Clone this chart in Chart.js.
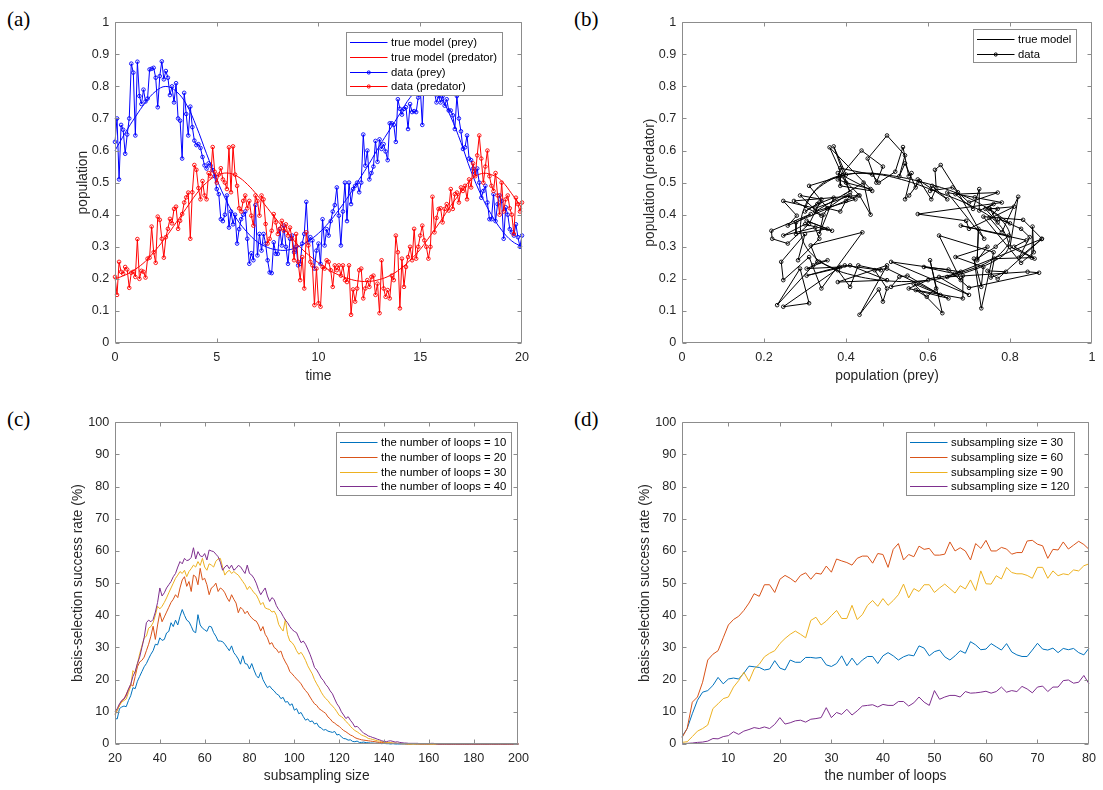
<!DOCTYPE html>
<html><head><meta charset="utf-8">
<script src="https://cdn.jsdelivr.net/npm/chart.js@4.4.1/dist/chart.umd.min.js"></script>
<style>
html,body{margin:0;padding:0;background:#fff;overflow:hidden;}
#wrap{position:relative;width:1103px;height:790px;background:#fff;}
canvas{position:absolute;}
.plab{position:absolute;font-family:'Liberation Serif','Times New Roman',serif;font-size:21px;line-height:21px;color:#000;}
</style></head><body>
<div id="wrap">
<div class="plab" style="left:7px;top:9px">(a)</div>
<div class="plab" style="left:574px;top:9px">(b)</div>
<div class="plab" style="left:7px;top:409px">(c)</div>
<div class="plab" style="left:574px;top:409px">(d)</div>
<canvas id="ca" width="471" height="376" style="left:65px;top:9px;width:471px;height:376px"></canvas>
<canvas id="cb" width="471" height="376" style="left:632px;top:9px;width:471px;height:376px"></canvas>
<canvas id="cc" width="471" height="377" style="left:65px;top:409px;width:471px;height:377px"></canvas>
<canvas id="cd" width="471" height="377" style="left:632px;top:409px;width:471px;height:377px"></canvas>
</div>
<script>
// ---------------- data: panel (a)/(b) ----------------
const dataStep = 0.1;   // sampling interval of the noisy data
const modelStep = 0.5;  // sampling interval of the true model curves
const preyData = [
0.627,0.70,0.51,0.68,0.665,0.59,0.65,0.70,0.871,0.843,
0.647,0.877,0.77,0.745,0.79,0.753,0.762,0.853,0.855,0.858,
0.827,0.735,0.832,0.878,0.822,0.848,0.827,0.773,0.80,0.75,
0.81,0.70,0.693,0.575,0.78,0.714,0.647,0.737,0.673,0.631,
0.617,0.62,0.608,0.58,0.554,0.544,0.56,0.553,0.539,0.52,
0.48,0.464,0.386,0.38,0.40,0.46,0.36,0.41,0.37,0.40,
0.31,0.355,0.386,0.40,0.41,0.325,0.247,0.28,0.258,0.43,
0.273,0.34,0.288,0.34,0.31,0.258,0.22,0.218,0.314,0.278,
0.278,0.355,0.304,0.366,0.30,0.247,0.325,0.335,0.283,0.30,
0.242,0.247,0.31,0.34,0.44,0.314,0.33,0.32,0.232,0.288,
0.31,0.247,0.386,0.304,0.355,0.335,0.38,0.41,0.43,0.485,
0.397,0.304,0.41,0.50,0.38,0.50,0.433,0.48,0.49,0.50,
0.47,0.50,0.65,0.553,0.60,0.51,0.53,0.55,0.63,0.565,
0.635,0.605,0.62,0.597,0.57,0.685,0.685,0.68,0.627,0.76,
0.73,0.712,0.73,0.735,0.667,0.745,0.72,0.723,0.72,0.765,
0.797,0.68,0.84,0.81,0.86,0.80,0.82,0.78,0.75,0.77,
0.75,0.77,0.74,0.76,0.725,0.725,0.71,0.667,0.77,0.70,
0.66,0.605,0.61,0.647,0.575,0.57,0.544,0.53,0.544,0.50,
0.453,0.474,0.49,0.438,0.386,0.386,0.464,0.38,0.433,0.46,
0.443,0.325,0.423,0.40,0.355,0.345,0.335,0.37,0.33,0.30,
0.335];
const predData = [
0.206,0.15,0.253,0.222,0.216,0.237,0.229,0.172,0.219,0.222,
0.206,0.324,0.20,0.225,0.222,0.204,0.263,0.266,0.363,0.283,
0.25,0.394,0.384,0.325,0.266,0.33,0.356,0.387,0.373,0.418,
0.425,0.356,0.381,0.402,0.438,0.454,0.469,0.325,0.47,0.555,
0.54,0.483,0.448,0.505,0.46,0.448,0.53,0.52,0.611,0.534,
0.50,0.525,0.545,0.51,0.50,0.48,0.61,0.47,0.613,0.525,
0.49,0.42,0.41,0.443,0.46,0.42,0.443,0.397,0.366,0.46,
0.443,0.397,0.46,0.448,0.371,0.31,0.325,0.35,0.402,0.376,
0.34,0.356,0.381,0.35,0.37,0.335,0.36,0.325,0.258,0.34,
0.253,0.196,0.268,0.17,0.345,0.304,0.253,0.242,0.118,0.232,
0.124,0.113,0.237,0.232,0.258,0.253,0.227,0.175,0.242,0.227,
0.242,0.21,0.242,0.196,0.19,0.242,0.088,0.167,0.129,0.17,
0.227,0.232,0.139,0.17,0.196,0.175,0.206,0.21,0.15,0.185,
0.093,0.258,0.17,0.144,0.165,0.139,0.21,0.196,0.335,0.283,
0.108,0.263,0.175,0.237,0.268,0.30,0.258,0.356,0.263,0.30,
0.335,0.366,0.32,0.30,0.263,0.30,0.456,0.345,0.39,0.418,
0.42,0.376,0.418,0.433,0.413,0.48,0.418,0.464,0.469,0.438,
0.485,0.474,0.49,0.448,0.51,0.485,0.56,0.52,0.585,0.647,
0.575,0.50,0.55,0.60,0.52,0.49,0.474,0.53,0.46,0.40,
0.50,0.41,0.448,0.46,0.42,0.40,0.34,0.453,0.433,0.41,
0.438];
const preyModel = [0.60,0.655,0.705,0.75,0.785,0.80,0.785,0.745,0.675,0.59,
0.51,0.44,0.385,0.345,0.315,0.298,0.29,0.29,0.30,0.318,
0.342,0.375,0.415,0.46,0.51,0.56,0.615,0.665,0.715,0.765,
0.795,0.79,0.765,0.705,0.625,0.535,0.46,0.40,0.352,0.318,0.30];
const predModel = [0.20,0.212,0.23,0.255,0.29,0.33,0.375,0.42,0.465,0.50,
0.522,0.53,0.52,0.495,0.46,0.42,0.38,0.342,0.305,0.275,
0.25,0.228,0.212,0.20,0.193,0.192,0.198,0.21,0.23,0.258,
0.292,0.335,0.38,0.428,0.47,0.51,0.528,0.525,0.505,0.465,0.42];

// ---------------- data: panel (c) ----------------
const sizeStart = 20, sizeEnd = 200;
const loops10 = [
7.9,7.8,11,11.5,11.8,11.6,13.5,15,17.5,17.2,
19.5,21,22.5,24,25,26.5,27.9,29,31,30.8,
33,32.2,32.5,34.5,35,37.7,36.5,38.5,37,39.7,
41.8,40,38.5,38,36.6,35,34.6,40.2,37,36,
35.5,35,36.6,36.4,34.6,33.5,32,32,31.8,31,
30,29,30.5,28.4,27.5,26.4,24.8,27.4,25,24.8,
23.3,25,23,21.3,20.5,22.3,20,18.7,17.5,18,
17.1,16.5,15.6,15.2,14.1,14.5,13,13.2,12,12.5,
10.5,11,9.4,9.8,8.5,7.4,7.8,6.9,7.2,6.2,
6.5,5.3,5,4.3,4.5,4,3.8,3.6,3.9,2.8,
3,2.2,1.7,1.6,1.2,1.3,0.8,0.7,0.9,0.5,
0.5,0.6,0.4,0.4,0.3,0.3,0.2,0.3,0.2,0.1,
0.2,0.1,0.1,0,0.1,0,0,0,0,0,
0,0,0,0,0,0,0,0,0,0,
0,0,0,0,0,0,0,0,0,0,
0,0,0,0,0,0,0,0,0,0,
0,0,0,0,0,0,0,0,0,0,
0,0,0,0,0,0,0,0,0,0,
0];
const loops20 = [
9,10.5,12,13.5,14,15.5,17,18.5,18,21,
24,25.5,26,27,29,31,33.5,36.6,32.5,37,
40.8,38,39.5,41,42.5,44,45,46.4,45.5,48.5,
51,52,49,50.5,47.4,52.5,52,49.5,54.6,51,
51.5,49.5,46.4,48.5,49,50,47.4,48.5,48,47,
45.4,44.3,46.4,45,43.8,40.8,42.5,41.8,40.5,41.3,
40,39.2,38.5,38.2,37,35.1,36.5,34.1,33,31,
31.5,30,29.5,28.4,28.9,26.9,25.5,24.3,22.5,21.8,
21,20.2,19.5,18.7,17.5,16.6,15.8,14.6,13.5,12.5,
12,11,10.5,10,9.5,8.4,7.8,6.9,6.5,5.9,
5.5,4.8,4.2,3.8,3.3,2.8,2.5,2,1.7,1.5,
1.3,1.2,1.1,1,0.9,0.8,0.7,0.6,0.5,0.5,
0.4,0.4,0.3,0.3,0.2,0.2,0.2,0.1,0.1,0.1,
0,0,0,0.1,0,0,0,0,0,0,
0,0,0,0,0,0,0,0,0,0,
0,0,0,0,0,0,0,0,0,0,
0,0,0,0,0,0,0,0,0,0,
0,0,0,0,0,0,0,0,0,0,
0];
const loops30 = [
9.5,10.5,12,13,13.5,14,16,18,22.8,22,
25,28,30.5,33,33.5,36,36.5,37.7,40,42.8,
42,42.8,44,45.4,47,48.5,50,51.5,52.5,53.6,
53,54,52,53.6,54.5,55.6,55,56.7,55.5,57.7,
55,54,56,55.6,55,56.8,57.5,57.7,55,52.5,
53.5,54,53,53.6,53,52.5,51.5,50.5,49.5,48,
49,48,47,46.4,45,43.3,44,42.3,42,41.8,
41,41.3,40,37.2,36,35.1,38.7,34,32,31.5,
30.5,29,27.9,28.5,27.4,26,24.3,23,21.8,20,
18.7,17.5,16.1,15,14.1,13.5,12.5,11.8,11,10,
8.9,8.5,7.9,7,6.4,5.5,4.8,4.2,3.8,3.3,
2.8,2.5,2.2,1.7,1.6,1.4,1.2,1,0.9,0.7,
0.6,0.5,0.5,0.4,0.3,0.3,0.2,0.2,0.1,0.1,
0.1,0,0,0,0,0.1,0,0,0,0,
0,0,0,0,0,0,0,0,0,0,
0,0,0,0,0,0,0,0,0,0,
0,0,0,0,0,0,0,0,0,0,
0,0,0,0,0,0,0,0,0,0,
0];
const loops40 = [
10,11,12.5,13.5,14,15,17,18.5,21,22.5,
25,27,30,33,37.7,38.5,38,38.7,41,44,
48.5,46,47,48.5,49.5,50.5,52,53,55,56.7,
56,57.7,57,57.2,58,61,57.5,59.8,58.5,58.2,
59.2,57.2,60.3,60,59.8,59,58.2,56.5,54,55,
55.6,54.5,55.6,54,54.6,55.5,55.1,54,53,55.6,
53,52.5,51.5,50,48,46.4,47.5,48.5,46,44.3,
45.5,44.9,43,41.8,41,39.7,38.5,37.7,36.5,35.6,
35,34.6,33,31.5,32,31,29.5,27.9,26,23.8,
23,21.8,20.5,19.7,18.5,17.7,16.5,15.6,14,12.5,
11.5,10,9,7.9,8.5,7.4,6.5,5.3,5.5,4.8,
4,3.3,3,2.5,2.3,2,1.8,1.5,1.3,1,
0.8,0.7,0.9,1,0.8,0.6,0.7,0.5,0.4,0.3,
0.3,0.2,0.2,0.2,0.2,0.2,0.1,0.1,0.1,0.1,
0.1,0.2,0.2,0.1,0,0,0,0,0,0,
0,0,0,0,0,0,0,0,0,0,
0,0,0,0,0,0,0,0,0,0,
0,0,0,0,0,0,0,0,0,0,
0];

// ---------------- data: panel (d) ----------------
const loopStart = 1, loopEnd = 80;
const size30 = [2.3,4.8,9.4,13.6,16.1,16.6,18.2,20.7,18.7,20.2,
20.5,20.2,22,24.2,24,23.8,23,23.3,25.9,23.6,
23,26.1,25.4,25.4,26.9,26.9,26.7,26.9,24.6,24.1,
25,27.4,24.3,26.7,24.5,26.1,27.2,27.2,25,27.4,
28.4,27.4,26.1,27.1,27.7,27.4,30.5,29.8,27.4,28.7,
29.2,27.1,26.1,27.4,29,28.2,31.8,30.8,29.3,29.5,
31.2,30.2,29.2,31.2,28.6,27.7,27.2,27.2,29.2,31.3,
29.5,29.2,29.8,28.4,29.7,29.3,29.7,28.4,27.7,29.8];
const size60 = [2,4.8,13,14.6,19.2,26.1,27.9,29,33,37,
38.7,39.7,41.5,43.8,46.7,45.9,49.5,49.5,47.1,51.2,
52.4,51.5,50.3,52.4,53.2,51.2,53.1,52.8,55.3,53.4,
57.5,56.9,56.4,55.6,57.7,58.4,58.4,56.2,59.2,58.9,
54.9,60.5,62.3,57.2,58.9,58.2,61.5,60.5,60.8,58.7,
58.7,59,62.8,60,61,60,57.2,62.3,60.8,63.3,
60,60,61.1,60.6,59,59.5,59.5,63.1,63.3,62.1,
61.6,57.7,60.5,60.3,62.8,60.6,61.8,63,62,60.5];
const size90 = [0.5,0.7,2.3,4,4.8,5.9,11,12.5,14.1,14.6,
17.7,19.7,22.3,19.5,23.3,24.8,27.1,28.2,29,31.2,
32.8,34.1,35.1,34.1,33,38.4,39.4,37,38.2,39.9,
41.5,39,39,43.1,38.7,40.2,43.1,44.6,42.8,45.2,
43.1,44.6,46.4,49.7,45.4,48.3,47.4,49.5,49.5,47.1,
48.5,49.7,48.3,46.9,49.2,48.2,51,47.7,53.8,49.8,
49.7,52.3,51.3,54.9,53.3,52.9,52.9,52.4,51.5,54.9,
54.9,51.5,53.8,52.3,52.9,52.6,54.1,53.8,55.4,56];
const size120 = [0,0.2,0.3,0.5,0.6,0.9,1.7,1.6,2.3,2.6,
3.8,3,4,4.5,5.1,4.8,5.3,4.8,6.1,8.2,
6.2,6.6,7.2,7.4,6.8,7.7,7.9,8.2,11.3,8.2,
9.8,9.2,10.8,9,10.3,11.8,12,12.2,11.5,12.3,
12,12,13.2,13.2,11.8,12.8,14.6,13,12,16.6,
13.9,14.6,15.1,15.1,14.6,16.3,15.8,15.9,16.1,16.4,
15.8,16.3,17.7,16.1,16.6,16.3,17.9,17.1,15.9,17.7,
18,16.3,17.7,17.7,19.7,19.9,18.9,19.2,21.3,18.7];

// ---------------- tick values / labels ----------------
const ticksTime = [0,5,10,15,20];
const ticksTimeLabels = ['0','5','10','15','20'];
const ticksPop = [0,0.1,0.2,0.3,0.4,0.5,0.6,0.7,0.8,0.9,1];
const ticksPopLabels = ['0','0.1','0.2','0.3','0.4','0.5','0.6','0.7','0.8','0.9','1'];
const ticksPrey = [0,0.2,0.4,0.6,0.8,1];
const ticksPreyLabels = ['0','0.2','0.4','0.6','0.8','1'];
const ticksRate = [0,10,20,30,40,50,60,70,80,90,100];
const ticksRateLabels = ['0','10','20','30','40','50','60','70','80','90','100'];
const ticksSize = [20,40,60,80,100,120,140,160,180,200];
const ticksSizeLabels = ['20','40','60','80','100','120','140','160','180','200'];
const ticksLoops = [10,20,30,40,50,60,70,80];
const ticksLoopsLabels = ['10','20','30','40','50','60','70','80'];

// ---------------- helpers ----------------
const FONT = '"Liberation Sans", Arial, Helvetica, sans-serif';
const TXT = '#262626';
const FRAME = '#8c8c8c';
Chart.defaults.font.family = FONT;

function xy(xs, ys) { return ys.map((v, i) => ({x: xs[i], y: v})); }
const tData = preyData.map((_, i) => i * dataStep);
const tModel = preyModel.map((_, i) => i * modelStep);
const sizes = []; for (let s = sizeStart; s <= sizeEnd; s++) sizes.push(s);
const loops = []; for (let l = loopStart; l <= loopEnd; l++) loops.push(l);

function axis(kind, min, max, tickVals, tickLabels, title, fitSize, titlePad) {
  const isX = kind === 'x';
  return {
    type: 'linear', position: isX ? 'bottom' : 'left', min, max,
    grid: {display: false, drawTicks: false},
    border: {display: false},
    ticks: {
      color: TXT, font: {size: 12.6, family: FONT}, padding: isX ? 7 : 5.7,
      autoSkip: false, maxRotation: 0, minRotation: 0,
      callback: (v, i) => tickLabels[i]
    },
    afterBuildTicks: s => { s.ticks = tickVals.map(v => ({value: v})); },
    afterFit: s => { if (isX) s.height = fitSize; else s.width = fitSize; },
    title: {display: true, text: title, color: TXT, font: {size: 13.8, family: FONT},
      padding: isX ? {top: 0, bottom: titlePad} : {top: titlePad, bottom: 0}}
  };
}

const framePlugin = {
  id: 'frame',
  afterDraw(chart, args, opts) {
    const {ctx, chartArea: a, scales} = chart;
    ctx.save();
    ctx.lineWidth = 1;
    ctx.strokeStyle = FRAME;
    const L = Math.round(a.left) + 0.5, R = Math.round(a.right) - 0.5;
    const T = Math.round(a.top) + 0.5, B = Math.round(a.bottom) - 0.5;
    const tl = 4;
    ctx.beginPath();
    ctx.rect(L, T, R - L, B - T);
    scales.x.ticks.forEach(t => {
      let p = Math.round(scales.x.getPixelForValue(t.value)) + 0.5;
      if (p > R) p = R;
      ctx.moveTo(p, B); ctx.lineTo(p, B - tl);
      ctx.moveTo(p, T); ctx.lineTo(p, T + tl);
    });
    scales.y.ticks.forEach(t => {
      let p = Math.round(scales.y.getPixelForValue(t.value)) + 0.5;
      if (p < T) p = T;
      ctx.moveTo(L, p); ctx.lineTo(L + tl, p);
      ctx.moveTo(R, p); ctx.lineTo(R - tl, p);
    });
    ctx.stroke();
    // legend box inside the axes
    const items = chart.data.datasets;
    ctx.font = '11.3px ' + FONT;
    const tw = Math.max(...items.map(d => ctx.measureText(d.label).width));
    const bx = Math.round(a.left + opts.left), by = Math.round(a.top + opts.top);
    const padL = 4, lineLen = 37.5, gap = 3.5, padR = 4.7, rowH = 14.7;
    const w = Math.round(padL + lineLen + gap + tw + padR), h = Math.round(items.length * rowH + 4);
    ctx.fillStyle = '#fff';
    ctx.fillRect(bx, by, w, h);
    ctx.strokeStyle = FRAME;
    ctx.strokeRect(bx + 0.5, by + 0.5, w, h);
    items.forEach((d, i) => {
      const y = Math.round(by + 10.3 + i * rowH) + 0.5;
      ctx.strokeStyle = d.borderColor;
      ctx.lineWidth = 1;
      ctx.beginPath(); ctx.moveTo(bx + padL, y); ctx.lineTo(bx + padL + lineLen, y); ctx.stroke();
      if (d.pointRadius) {
        ctx.beginPath(); ctx.arc(bx + padL + lineLen / 2, y, 1.6, 0, Math.PI * 2); ctx.stroke();
      }
      ctx.fillStyle = '#000';
      ctx.textBaseline = 'middle';
      ctx.textAlign = 'left';
      ctx.fillText(d.label, bx + padL + lineLen + gap, y);
    });
    ctx.restore();
  }
};

function lineSet(label, data, color, order, opts) {
  return Object.assign({
    label, data, borderColor: color, backgroundColor: color, borderWidth: 1,
    showLine: true, pointRadius: 0, pointHoverRadius: 0, tension: 0, order, clip: false
  }, opts || {});
}
const marker = {pointRadius: 1.8, pointBorderWidth: 0.9, pointBackgroundColor: 'rgba(0,0,0,0)', pointStyle: 'circle'};

function makeChart(id, datasets, scales, legendPos) {
  return new Chart(document.getElementById(id), {
    type: 'scatter',
    data: {datasets},
    options: {
      responsive: false, animation: false, devicePixelRatio: 1, events: [],
      layout: {padding: {left: 50 - scales.y.afterFitW, right: 11, top: 10, bottom: 0}},
      scales: {x: scales.x, y: scales.y},
      plugins: {legend: {display: false}, tooltip: {enabled: false}, frame: legendPos}
    },
    plugins: [framePlugin]
  });
}

function yAxis(min, max, tv, tl, title, offset) {
  const lh = 13.8 * 1.2;
  const w = offset + lh / 2;
  const ax = axis('y', min, max, tv, tl, title, w, 0);
  ax.afterFitW = w;
  return ax;
}
function xAxis(min, max, tv, tl, title, offset) {
  const lh = 13.8 * 1.2;
  return axis('x', min, max, tv, tl, title, 42, 42 - offset - lh / 2);
}

// (a)
makeChart('ca', [
  lineSet('true model (prey)', xy(tModel, preyModel), '#0000ff', 4, {tension: 0.4}),
  lineSet('true model (predator)', xy(tModel, predModel), '#ff0000', 3, {tension: 0.4}),
  lineSet('data (prey)', xy(tData, preyData), '#0000ff', 2, marker),
  lineSet('data (predator)', xy(tData, predData), '#ff0000', 1, marker)
], {
  x: xAxis(0, 20, ticksTime, ticksTimeLabels, 'time', 33),
  y: yAxis(0, 1, ticksPop, ticksPopLabels, 'population', 32)
}, {left: 230.7, top: 9.3});

// (b)
makeChart('cb', [
  lineSet('true model', xy(preyModel, predModel), '#000000', 2, {tension: 0.4}),
  lineSet('data', xy(preyData, predData), '#000000', 1, marker)
], {
  x: xAxis(0, 1, ticksPrey, ticksPreyLabels, 'population (prey)', 33),
  y: yAxis(0, 1, ticksPop, ticksPopLabels, 'population (predator)', 32)
}, {left: 290.7, top: 7});

// (c)
makeChart('cc', [
  lineSet('the number of loops = 10', xy(sizes, loops10), '#0072BD', 4),
  lineSet('the number of loops = 20', xy(sizes, loops20), '#D95319', 3),
  lineSet('the number of loops = 30', xy(sizes, loops30), '#EDB120', 2),
  lineSet('the number of loops = 40', xy(sizes, loops40), '#7E2F8E', 1)
], {
  x: xAxis(20, 200, ticksSize, ticksSizeLabels, 'subsampling size', 32),
  y: yAxis(0, 100, ticksRate, ticksRateLabels, 'basis-selection success rate (%)', 37)
}, {left: 220.7, top: 9.3});

// (d)
makeChart('cd', [
  lineSet('subsampling size = 30', xy(loops, size30), '#0072BD', 4),
  lineSet('subsampling size = 60', xy(loops, size60), '#D95319', 3),
  lineSet('subsampling size = 90', xy(loops, size90), '#EDB120', 2),
  lineSet('subsampling size = 120', xy(loops, size120), '#7E2F8E', 1)
], {
  x: xAxis(1, 80, ticksLoops, ticksLoopsLabels, 'the number of loops', 32),
  y: yAxis(0, 100, ticksRate, ticksRateLabels, 'basis-selection success rate (%)', 37)
}, {left: 224.3, top: 9.3});
</script>
</body></html>
